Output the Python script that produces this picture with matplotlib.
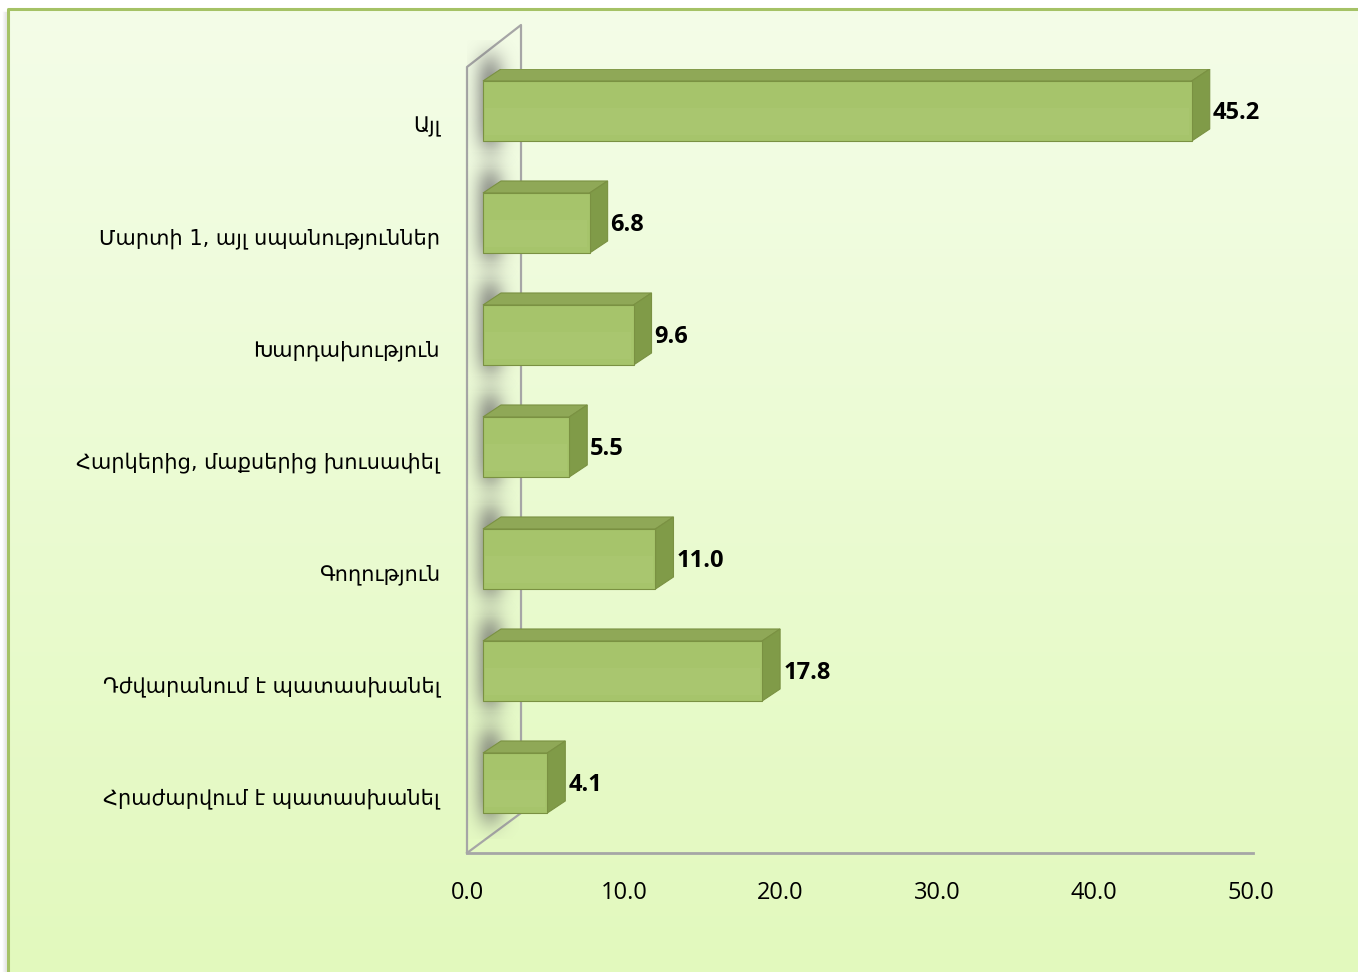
import numpy as np
import matplotlib.pyplot as plt
from matplotlib.patches import Polygon, Rectangle

categories = ["Հրաժարվում է պատասխանել", "Դժվարանում է պատասխանել", "Գողություն",
              "Հարկերից, մաքսերից խուսափել", "Խարդախություն",
              "Մարտի 1, այլ սպանություններ", "Այլ"]
values = [4.1, 17.8, 11.0, 5.5, 9.6, 6.8, 45.2]
xticks = [0, 10, 20, 30, 40, 50]

W, H = 1358, 972
fig = plt.figure(figsize=(W / 100, H / 100), dpi=100)

# background: white edge, green frame, light vertical gradient
bg = fig.add_axes([0, 0, 1, 1])
bg.set_xlim(0, W)
bg.set_ylim(H, 0)
bg.axis("off")
grad = np.linspace(0, 1, 256)[:, None]
top = np.array([244, 253, 232]) / 255
bot = np.array([226, 249, 189]) / 255
img = top + (bot - top) * grad[..., None]
img = np.repeat(img, 2, axis=1)
bg.imshow(img, extent=[8, W, H, 9], aspect="auto", zorder=0)
for k, a in enumerate([0.05, 0.08, 0.12, 0.16]):
    bg.plot([3 + k, 3 + k], [12, H], color="gray", alpha=a, lw=1)
bg.plot([8, 8, W], [H, 9, 9], color="#A5C266", lw=2.2)

# main axes: x 0..50 -> px 467..1251, y 0..7 -> px 853..69
x0p, x1p, y0p, y1p = 467, 1251, 853, 69
ax = fig.add_axes([x0p / W, 1 - y0p / H, (x1p - x0p) / W, (y0p - y1p) / H])
ax.set_xlim(0, 50)
ax.set_ylim(0, 7)
ax.patch.set_alpha(0)
sx = (x1p - x0p) / 50.0   # px per x unit
sy = (y0p - y1p) / 7.0    # px per y unit

# walls (3D frame)
wx = 54 / sx
wall_col = "#A6A6A6"
ax.plot([0, 0, wx, wx, 0], [0, (y0p - 67) / sy, (y0p - 25) / sy, 40 / sy, 0],
        color=wall_col, lw=1.6, clip_on=False, zorder=1)

off = 16 / sx
ddx = 18 / sx
ddy = 12 / sy
fb = 40 / sy

# soft shadow blob
yy, xx = np.mgrid[-1:1:200j, -1:1:100j]
alpha = np.exp(-(xx + 0.1) ** 2 * 3.0) * np.exp(-(np.abs(yy) ** 4) * 3.0) * 0.7
shadow = np.zeros((200, 100, 4))
shadow[..., :3] = 0.40
shadow[..., 3] = alpha

front_c = "#A6C46B"
top_c = "#8FA857"
side_c = "#809B48"
edge_c = "#7A9142"

for i, (cat, v) in enumerate(zip(categories, values)):
    yb = i + fb
    yt = i + 0.893
    xl = off
    xr = off + v
    ax.imshow(shadow, extent=[off - 16 / sx, off + 36 / sx, yb - 26 / sy, yt + 40 / sy],
              aspect="auto", zorder=2, clip_on=False, interpolation="bilinear")
    # top face
    ax.add_patch(Polygon([(xl, yt), (xr, yt), (xr + ddx, yt + ddy), (xl + ddx, yt + ddy)],
                         closed=True, fc=top_c, ec=edge_c, lw=0.8, zorder=3))
    # side face
    ax.add_patch(Polygon([(xr, yb), (xr, yt), (xr + ddx, yt + ddy), (xr + ddx, yb + ddy)],
                         closed=True, fc=side_c, ec=edge_c, lw=0.8, zorder=3))
    # front face
    ax.add_patch(Rectangle((xl, yb), v, yt - yb, fc=front_c, ec=edge_c, lw=0.8, zorder=4))
    ax.add_patch(Rectangle((xl + 0.15, yb + 0.05), v - 0.3, (yt - yb) * 0.45,
                           fc="#AFCB78", ec="none", alpha=0.35, zorder=4))
    ax.text(xr + ddx + 3 / sx, (yb + yt) / 2 - 2 / sy, f"{v:.1f}", ha="left", va="center",
            fontsize=17, fontweight="bold", family="Open Sans", color="black", zorder=5)
    ax.text(-27 / sx, i + 0.5 - 2 / sy, cat, ha="right", va="center", fontsize=15,
            family="DejaVu Sans", color="black", clip_on=False)

ax.set_xticks(xticks)
ax.set_xticklabels([f"{t:.1f}" for t in xticks], fontsize=17, family="Open Sans")
ax.set_yticks([])
ax.tick_params(axis="x", length=0, pad=20)
for s in ["top", "right", "left"]:
    ax.spines[s].set_visible(False)
ax.spines["bottom"].set_color(wall_col)
ax.spines["bottom"].set_linewidth(2)
ax.spines["bottom"].set_bounds(0, 50.1)

fig.savefig("out.png", dpi=100)
